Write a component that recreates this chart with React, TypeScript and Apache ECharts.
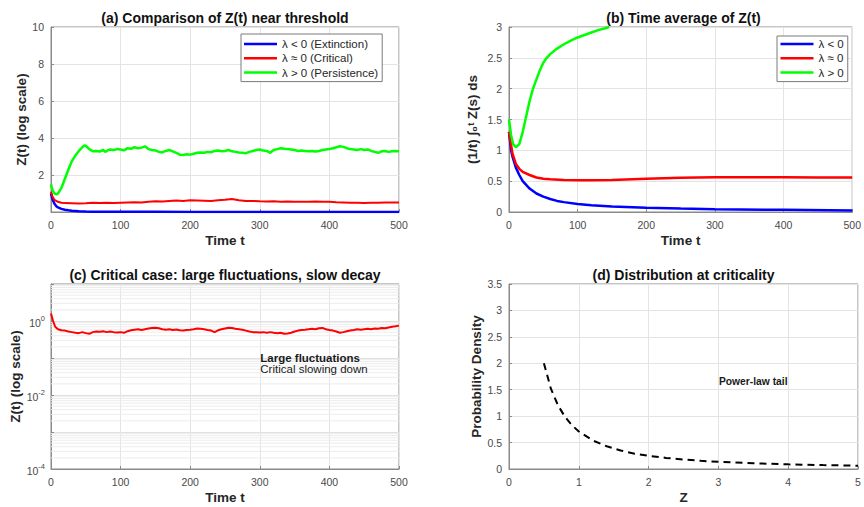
import React, { useEffect, useRef } from 'react';
import * as echarts from 'echarts';

// ---------- Panel (a): Z(t), linear axis ----------
const blueA: [number, number][] = [
  [0, 1.0], [2, 0.7], [5, 0.45], [8, 0.3], [10, 0.25], [15, 0.17], [20, 0.12], [25, 0.09], [30, 0.07],
  [40, 0.045], [50, 0.03], [60, 0.02], [80, 0.015], [100, 0.01], [150, 0.008], [200, 0.006], [300, 0.005],
  [400, 0.004], [500, 0.004],
];
const redA: [number, number][] = [
  [0, 1.1], [2, 0.85], [5, 0.65], [10, 0.55], [15, 0.5], [20, 0.48], [30, 0.47], [40, 0.46], [50, 0.47],
  [60, 0.5], [70, 0.48], [80, 0.5], [90, 0.48], [100, 0.5], [110, 0.52], [120, 0.53], [130, 0.52],
  [140, 0.55], [150, 0.58], [160, 0.57], [170, 0.6], [180, 0.62], [190, 0.6], [200, 0.63], [210, 0.62],
  [220, 0.61], [230, 0.6], [240, 0.63], [250, 0.66], [260, 0.7], [270, 0.64], [280, 0.6], [290, 0.6],
  [300, 0.58], [310, 0.57], [320, 0.58], [330, 0.56], [340, 0.57], [350, 0.55], [360, 0.56], [370, 0.55],
  [380, 0.57], [390, 0.56], [400, 0.55], [410, 0.53], [420, 0.52], [430, 0.5], [440, 0.5], [450, 0.49],
  [460, 0.5], [470, 0.5], [480, 0.52], [490, 0.51], [500, 0.52],
];
const greenA: [number, number][] = [
  [0, 1.5], [2, 1.2], [5, 1.0], [8, 0.95], [10, 1.0], [15, 1.3], [20, 1.8], [25, 2.3], [30, 2.75],
  [35, 3.05], [40, 3.3], [45, 3.5], [48, 3.6], [50, 3.58], [55, 3.4], [60, 3.28], [65, 3.3], [70, 3.27],
  [75, 3.35], [78, 3.25], [80, 3.3], [85, 3.38], [90, 3.35], [95, 3.4], [100, 3.38], [105, 3.33],
  [110, 3.45], [115, 3.42], [120, 3.5], [125, 3.45], [130, 3.48], [135, 3.55], [140, 3.4], [145, 3.35],
  [150, 3.33], [155, 3.25], [160, 3.22], [165, 3.3], [170, 3.35], [175, 3.28], [180, 3.2], [185, 3.1],
  [190, 3.08], [195, 3.12], [200, 3.1], [205, 3.15], [210, 3.2], [215, 3.22], [220, 3.2], [225, 3.25],
  [230, 3.23], [235, 3.3], [240, 3.32], [245, 3.28], [250, 3.3], [255, 3.35], [260, 3.28], [265, 3.25],
  [270, 3.22], [275, 3.2], [280, 3.18], [285, 3.25], [290, 3.3], [295, 3.35], [300, 3.38], [305, 3.32],
  [310, 3.3], [315, 3.2], [320, 3.35], [325, 3.4], [330, 3.45], [335, 3.42], [340, 3.4], [345, 3.38],
  [350, 3.35], [355, 3.3], [360, 3.32], [365, 3.3], [370, 3.28], [375, 3.3], [380, 3.27], [385, 3.3],
  [390, 3.35], [395, 3.38], [400, 3.4], [405, 3.45], [410, 3.5], [415, 3.55], [420, 3.52], [425, 3.45],
  [430, 3.4], [435, 3.38], [440, 3.35], [445, 3.4], [450, 3.35], [455, 3.38], [460, 3.3], [465, 3.25],
  [470, 3.2], [475, 3.28], [480, 3.3], [485, 3.25], [490, 3.28], [495, 3.3], [500, 3.28],
];

// ---------- Panel (b): time averages ----------
const blueB: [number, number][] = [
  [0, 1.3], [3, 1.0], [5, 0.9], [10, 0.72], [15, 0.6], [20, 0.5], [30, 0.38], [40, 0.3], [50, 0.25],
  [60, 0.21], [70, 0.18], [80, 0.16], [100, 0.13], [120, 0.11], [150, 0.09], [200, 0.07], [250, 0.055],
  [300, 0.045], [400, 0.035], [500, 0.025],
];
const redB: [number, number][] = [
  [0, 1.3], [5, 0.95], [10, 0.78], [15, 0.7], [20, 0.65], [30, 0.6], [40, 0.56], [50, 0.54], [60, 0.53],
  [80, 0.52], [100, 0.515], [120, 0.515], [150, 0.52], [200, 0.54], [250, 0.555], [300, 0.565],
  [350, 0.565], [400, 0.565], [450, 0.56], [500, 0.56],
];
const greenB: [number, number][] = [
  [0, 1.5], [3, 1.25], [6, 1.1], [10, 1.05], [15, 1.1], [20, 1.3], [25, 1.55], [30, 1.8], [35, 2.0],
  [40, 2.15], [45, 2.3], [50, 2.42], [55, 2.5], [60, 2.56], [70, 2.65], [80, 2.72], [90, 2.78],
  [100, 2.83], [110, 2.87], [120, 2.91], [130, 2.95], [140, 2.98], [146, 3.0],
];

// ---------- Panel (c): critical case, log axis ----------
const redC: [number, number][] = [
  [0, 1.6], [3, 1.0], [6, 0.7], [10, 0.6], [15, 0.56], [20, 0.55], [25, 0.52], [30, 0.5], [35, 0.48],
  [40, 0.47], [45, 0.5], [50, 0.47], [55, 0.45], [60, 0.5], [65, 0.52], [70, 0.51], [75, 0.53], [80, 0.5],
  [85, 0.52], [90, 0.5], [95, 0.49], [100, 0.5], [105, 0.48], [110, 0.53], [115, 0.56], [120, 0.58],
  [125, 0.6], [130, 0.57], [135, 0.6], [140, 0.63], [145, 0.65], [150, 0.66], [155, 0.64], [160, 0.6],
  [165, 0.58], [170, 0.6], [175, 0.57], [180, 0.59], [185, 0.56], [190, 0.55], [195, 0.57], [200, 0.58],
  [205, 0.6], [210, 0.63], [215, 0.62], [220, 0.6], [225, 0.57], [230, 0.55], [235, 0.5], [240, 0.56],
  [245, 0.6], [250, 0.63], [255, 0.66], [260, 0.65], [265, 0.62], [270, 0.6], [275, 0.58], [280, 0.55],
  [285, 0.52], [290, 0.5], [295, 0.5], [300, 0.49], [305, 0.5], [310, 0.48], [315, 0.5], [320, 0.48],
  [325, 0.47], [330, 0.48], [335, 0.45], [340, 0.46], [345, 0.48], [350, 0.52], [355, 0.55], [360, 0.57],
  [365, 0.58], [370, 0.6], [375, 0.62], [380, 0.6], [385, 0.64], [390, 0.65], [395, 0.6], [400, 0.57],
  [405, 0.55], [410, 0.52], [415, 0.48], [420, 0.5], [425, 0.53], [430, 0.55], [435, 0.57], [440, 0.6],
  [445, 0.58], [450, 0.6], [455, 0.62], [460, 0.6], [465, 0.63], [470, 0.62], [475, 0.65], [480, 0.64],
  [485, 0.67], [490, 0.7], [495, 0.72], [500, 0.75],
];
const logDecades = [-4, -3, -2, -1, 0];
const logMinorMultipliers = [2, 3, 4, 5, 6, 7, 8, 9];

// ---------- Panel (d): distribution ----------
const densityD: [number, number][] = [
  [0.5, 2.0], [0.6, 1.52], [0.7, 1.21], [0.8, 0.99], [0.9, 0.83], [1.0, 0.71], [1.2, 0.54], [1.4, 0.43],
  [1.6, 0.35], [1.8, 0.29], [2.0, 0.25], [2.25, 0.21], [2.5, 0.18], [2.75, 0.155], [3.0, 0.136],
  [3.5, 0.108], [4.0, 0.088], [4.5, 0.074], [5.0, 0.063],
];

const legendA = ['λ < 0 (Extinction)', 'λ ≈ 0 (Critical)', 'λ > 0 (Persistence)'];
const legendB = ['λ < 0', 'λ ≈ 0', 'λ > 0'];

const FONT = '"Liberation Sans", Arial, Helvetica, sans-serif';
const AX = '#8a8a8a';
const GRIDC = '#e4e4e4';
const LBL = '#4a4a4a';
const BLUE = '#0000ff';
const RED = '#ff0000';
const GREEN = '#00ff00';

const nameStyle = { fontFamily: FONT, fontSize: 13.5, fontWeight: 'bold', color: '#262626' };

function valueAxis(gridIndex: number, min: number, max: number, interval: number, name: string, nameGap: number, extra: any = {}) {
  return {
    type: 'value',
    gridIndex,
    min,
    max,
    interval,
    name,
    nameLocation: 'middle',
    nameGap,
    nameTextStyle: nameStyle,
    axisLine: { show: true, lineStyle: { color: AX, width: 1 } },
    axisTick: { show: true, inside: true, length: 3, lineStyle: { color: AX } },
    axisLabel: { fontFamily: FONT, fontSize: 10.5, color: LBL, margin: 7, ...(extra.axisLabel || {}) },
    splitLine: { show: true, lineStyle: { color: GRIDC, width: 1 } },
  };
}

const minorLogLines: number[] = [];
logDecades.forEach((d) => {
  logMinorMultipliers.forEach((m) => minorLogLines.push(m * Math.pow(10, d)));
});

function lineSeries(name: string, data: [number, number][], color: string, width: number, idx: number) {
  return {
    type: 'line',
    name,
    data,
    xAxisIndex: idx,
    yAxisIndex: idx,
    symbol: 'none',
    showSymbol: false,
    lineStyle: { color, width },
    itemStyle: { color },
    clip: true,
    silent: true,
    z: 3,
  };
}

const legendBase = {
  orient: 'vertical',
  icon: 'rect',
  itemWidth: 33,
  itemHeight: 2.5,
  itemGap: 2.3,
  borderColor: '#7a7a7a',
  borderWidth: 1,
  borderRadius: 0,
  backgroundColor: '#ffffff',
  textStyle: { fontFamily: FONT, fontSize: 11.5, color: '#262626', lineHeight: 12 },
  selectedMode: false,
};

const titleStyle = { fontFamily: FONT, fontSize: 14, fontWeight: 'bold', color: '#111' };

const option: any = {
  animation: false,
  backgroundColor: '#ffffff',
  textStyle: { fontFamily: FONT },
  title: [
    { text: '(a) Comparison of Z(t) near threshold', left: 225, top: 11, textAlign: 'center', padding: 0, textStyle: titleStyle },
    { text: '(b) Time average of Z(t)', left: 683.5, top: 11, textAlign: 'center', padding: 0, textStyle: titleStyle },
    { text: '(c) Critical case: large fluctuations, slow decay', left: 225, top: 268, textAlign: 'center', padding: 0, textStyle: titleStyle },
    { text: '(d) Distribution at criticality', left: 683.5, top: 268, textAlign: 'center', padding: 0, textStyle: titleStyle },
  ],
  legend: [
    { ...legendBase, data: legendA, left: 241, top: 34, padding: [4, 4, 3, 3] },
    { ...legendBase, data: legendB, left: 777, top: 36, padding: [2, 4, 3, 3.5] },
  ],
  grid: [
    { left: 51, top: 27, width: 348, height: 185, show: true, borderColor: AX, borderWidth: 1, backgroundColor: 'transparent' },
    { left: 509, top: 27, width: 349, height: 185, show: true, borderColor: AX, borderWidth: 1, backgroundColor: 'transparent' },
    { left: 51, top: 284, width: 348, height: 185, show: true, borderColor: AX, borderWidth: 1, backgroundColor: 'transparent' },
    { left: 509, top: 284, width: 349, height: 185, show: true, borderColor: AX, borderWidth: 1, backgroundColor: 'transparent' },
  ],
  xAxis: [
    valueAxis(0, 0, 500, 100, 'Time t', 21),
    valueAxis(1, 0, 500, 100, 'Time t', 21),
    valueAxis(2, 0, 500, 100, 'Time t', 21),
    valueAxis(3, 0, 5, 1, 'Z', 21),
  ],
  yAxis: [
    valueAxis(0, 0, 10, 2, 'Z(t) (log scale)', 21, { axisLabel: { showMinLabel: false } }),
    valueAxis(1, 0, 3, 0.5, '(1/t) ∫₀ᵗ Z(s) ds', 30),
    {
      type: 'log',
      logBase: 10,
      gridIndex: 2,
      min: 0.0001,
      max: 10,
      interval: 1,
      name: 'Z(t) (log scale)',
      nameLocation: 'middle',
      nameGap: 29,
      nameTextStyle: nameStyle,
      axisLine: { show: true, lineStyle: { color: AX, width: 1 } },
      axisTick: { show: true, inside: true, length: 3, lineStyle: { color: AX } },
      axisLabel: {
        fontFamily: FONT,
        color: LBL,
        margin: 6,
        formatter: (v: number) => {
          const e = Math.round(Math.log10(v));
          if (e % 2 !== 0) return '';
          return `{b|10}{s|${e}}`;
        },
        rich: {
          b: { fontFamily: FONT, fontSize: 10.5, color: LBL, verticalAlign: 'bottom' },
          s: { fontFamily: FONT, fontSize: 7.5, color: LBL, verticalAlign: 'bottom', padding: [0, 0, 6, 0] },
        },
      },
      splitLine: { show: true, lineStyle: { color: '#e0e0e0', width: 1 } },
    },
    valueAxis(3, 0, 3.5, 0.5, 'Probability Density', 24),
  ],
  series: [
    lineSeries(legendA[0], blueA, BLUE, 2.5, 0),
    lineSeries(legendA[1], redA, RED, 2, 0),
    lineSeries(legendA[2], greenA, GREEN, 2.5, 0),
    lineSeries(legendB[0], blueB, BLUE, 2.5, 1),
    lineSeries(legendB[1], redB, RED, 2.5, 1),
    lineSeries(legendB[2], greenB, GREEN, 2.5, 1),
    {
      type: 'custom',
      name: 'minor-grid',
      xAxisIndex: 2,
      yAxisIndex: 2,
      silent: true,
      z: 1,
      clip: true,
      data: minorLogLines.map((v) => [0, v]),
      renderItem: (params: any, api: any) => {
        const cs = params.coordSys;
        const p = api.coord([0, api.value(1)]);
        return {
          type: 'line',
          shape: { x1: cs.x, y1: p[1], x2: cs.x + cs.width, y2: p[1] },
          style: { stroke: '#ececec', lineWidth: 1 },
          silent: true,
        };
      },
    },
    {
      ...lineSeries('Critical case', redC, RED, 2, 2),
      markPoint: {
        silent: true,
        data: [
          {
            coord: [300, 0.07],
            symbol: 'circle',
            symbolSize: 1,
            itemStyle: { color: 'rgba(0,0,0,0)' },
            label: {
              show: true,
              position: 'right',
              distance: 0,
              formatter: '{b|Large fluctuations}\n{n|Critical slowing down}',
              rich: {
                b: { fontFamily: FONT, fontSize: 11.5, fontWeight: 'bold', color: '#1a1a1a', lineHeight: 11 },
                n: { fontFamily: FONT, fontSize: 11.5, color: '#1a1a1a', lineHeight: 11 },
              },
            },
          },
        ],
      },
    },
    {
      ...lineSeries('Distribution', densityD, '#000000', 2, 3),
      lineStyle: { color: '#000000', width: 2, type: [7, 5] },
      markPoint: {
        silent: true,
        data: [
          {
            coord: [3, 1.65],
            symbol: 'circle',
            symbolSize: 1,
            itemStyle: { color: 'rgba(0,0,0,0)' },
            label: {
              show: true,
              position: 'right',
              distance: 0,
              formatter: 'Power-law tail',
              fontFamily: FONT,
              fontSize: 10.3,
              fontWeight: 'bold',
              color: '#1a1a1a',
            },
          },
        ],
      },
    },
  ],
};

export default function App() {
  const ref = useRef<HTMLDivElement>(null);
  useEffect(() => {
    if (!ref.current) return;
    const chart = echarts.init(ref.current, null, { renderer: 'svg' });
    chart.setOption(option);
    return () => chart.dispose();
  }, []);
  return (
    <div
      ref={ref}
      style={{ position: 'fixed', left: 0, top: 0, width: 864, height: 507, background: '#ffffff' }}
    />
  );
}
